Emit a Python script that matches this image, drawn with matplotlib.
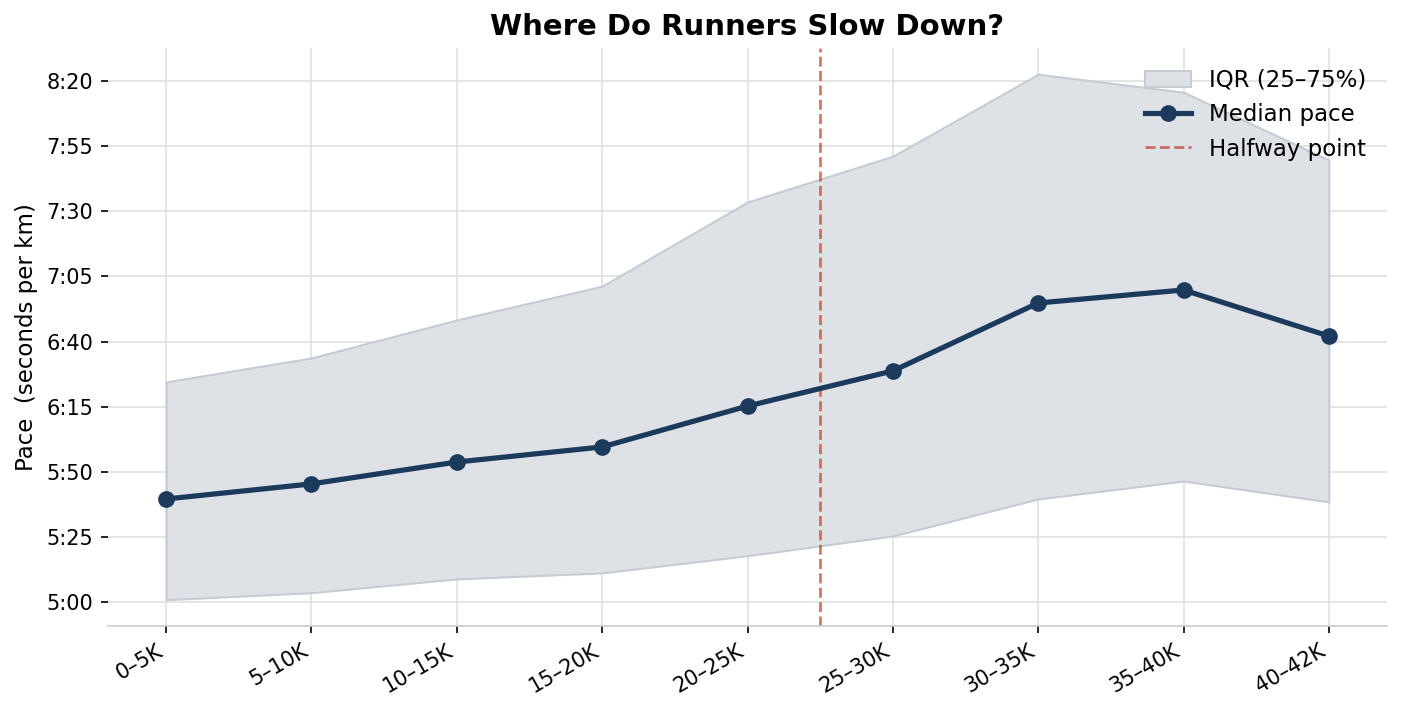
import matplotlib.pyplot as plt
import matplotlib.ticker as mticker
import numpy as np

segments = ['0–5K', '5–10K', '10–15K', '15–20K', '20–25K',
            '25–30K', '30–35K', '35–40K', '40–42K']
median_pace = [339.5, 345.3, 353.7, 359.5, 375.2, 388.7, 414.8, 419.8, 402.1]
q25_pace = [300.8, 303.5, 308.8, 311.1, 317.7, 325.3, 339.5, 346.4, 338.4]
q75_pace = [384.5, 393.7, 408.3, 421.3, 453.6, 471.2, 502.7, 495.8, 469.7]
halfway = 4.5

navy = '#1b3a5c'


def fmt_pace(v, pos):
    v = int(round(v))
    return '%d:%02d' % (v // 60, v % 60)


fig, ax = plt.subplots(figsize=(9.34, 4.747), dpi=150)
x = np.arange(len(segments))

ax.fill_between(x, q25_pace, q75_pace, facecolor='#dde1e6',
                edgecolor='#c3cad3', lw=1.0, alpha=0.95,
                label='IQR (25–75%)')
ax.plot(x, median_pace, color=navy, lw=2.5, marker='o', ms=7,
        label='Median pace', zorder=3)
ax.axvline(halfway, color='#c0392b', ls='--', lw=1.3, alpha=0.7,
           label='Halfway point')

ax.yaxis.set_major_locator(mticker.MultipleLocator(25))
ax.yaxis.set_major_formatter(mticker.FuncFormatter(fmt_pace))
ax.set_xticks(x)
ax.set_xticklabels(segments, rotation=30, ha='right')

ax.set_ylabel('Pace  (seconds per km)', fontsize=11)
ax.set_title('Where Do Runners Slow Down?', fontsize=14, fontweight='bold')
ax.grid(True, color='#e0e0e0', lw=0.8)
ax.set_axisbelow(True)
for s in ['top', 'right', 'left']:
    ax.spines[s].set_visible(False)
ax.spines['bottom'].set_color('#cccccc')
ax.legend(loc='upper right', frameon=False, fontsize=11)

fig.subplots_adjust(left=0.0771, right=0.990, top=0.9326, bottom=0.1208)
fig.savefig('out.png', dpi=150)
